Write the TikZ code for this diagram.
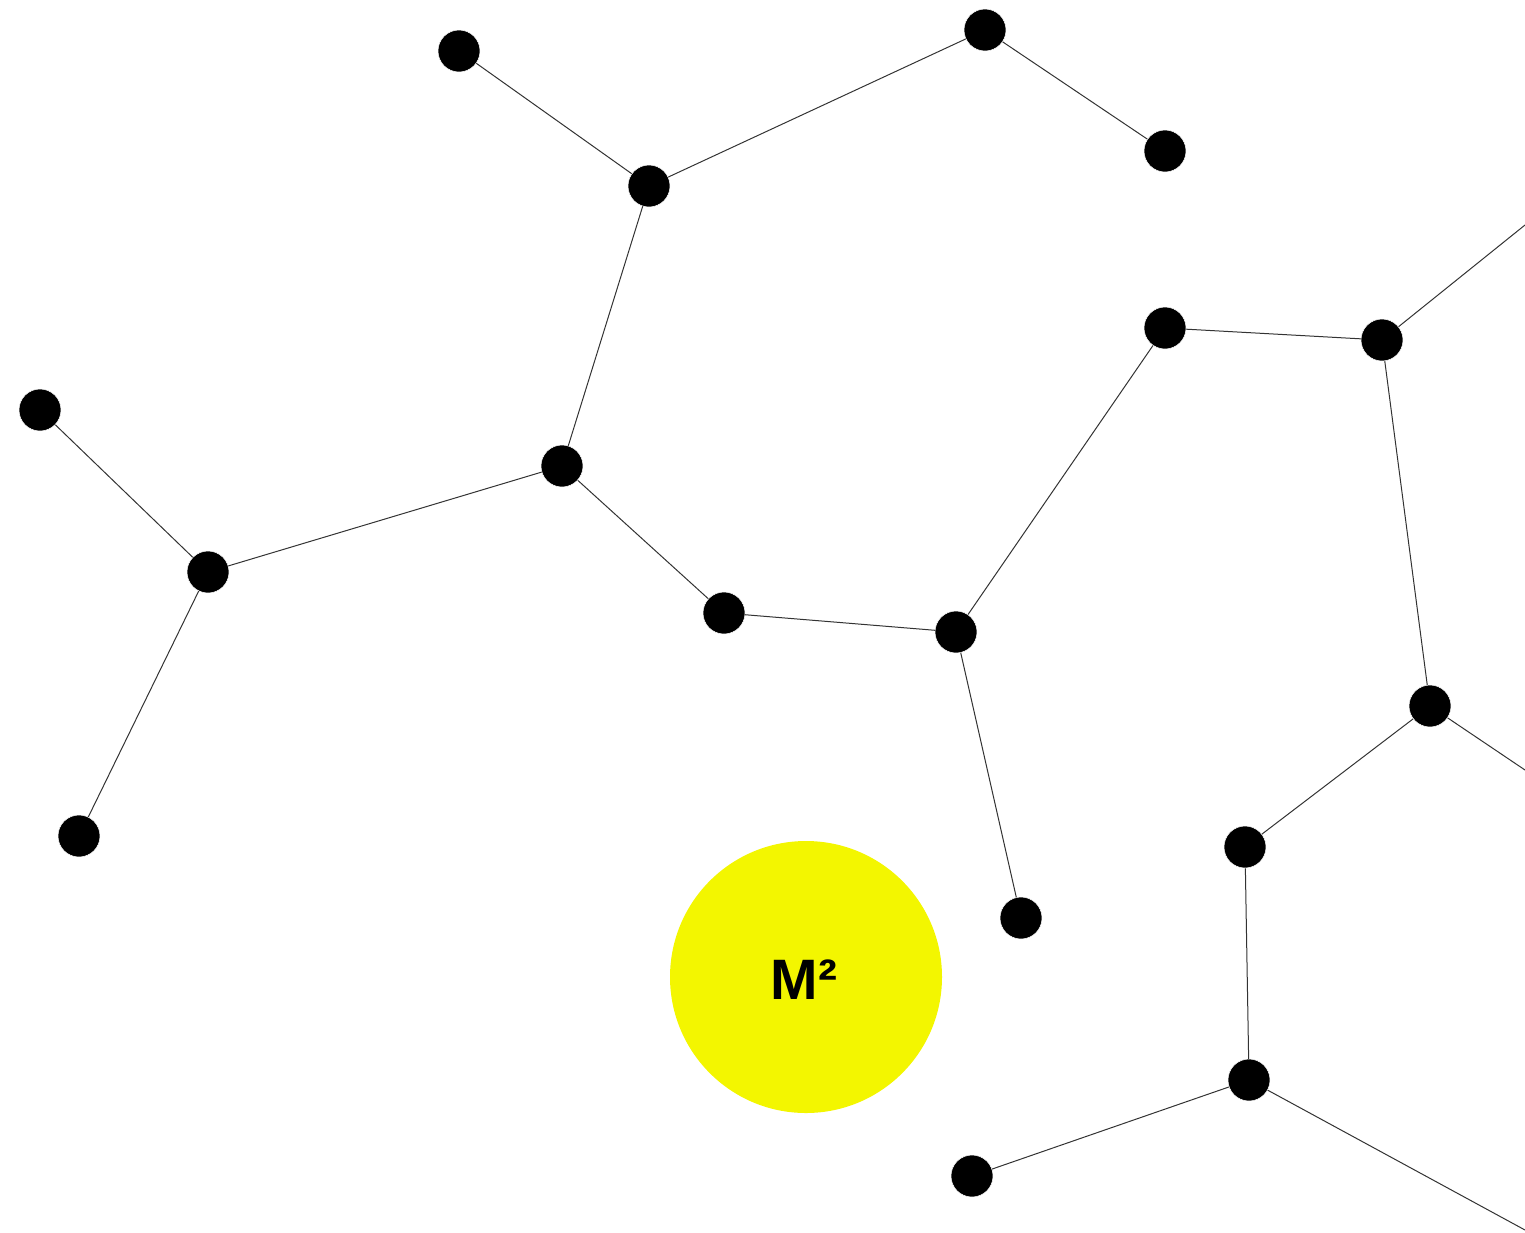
\documentclass[tikz,border=0pt]{standalone}
\usepackage{fontspec}
\setmainfont{Liberation Sans}
\begin{document}
\begin{tikzpicture}[x=1pt,y=-1pt,
  dot/.style={circle,fill=black,draw=white,line width=0.5pt,minimum size=42pt,inner sep=0pt},
  edge/.style={draw=black!80,line width=1pt},
  hub/.style={circle,fill={rgb,255:red,243;green,246;blue,0},minimum size=272pt,inner sep=0pt,font=\fontsize{57}{57}\selectfont\bfseries}]
\useasboundingbox (0,0) rectangle (1525,1232);
\node[hub] (hub) at (806,977) {};
\node[font=\fontsize{57}{57}\selectfont\bfseries,inner sep=0pt] (lbl) at (804,980) {M²};
\coordinate (ei) at (1525,225);
\coordinate (el) at (1525,770);
\coordinate (ep) at (1525,1230);
\node[dot] (a) at (459,51) {};
\node[dot] (b) at (985,30) {};
\node[dot] (c) at (1165,151) {};
\node[dot] (d) at (649,186) {};
\node[dot] (e) at (40,410) {};
\node[dot] (f) at (562,466) {};
\node[dot] (g) at (208,572) {};
\node[dot] (h) at (1165,328) {};
\node[dot] (i) at (1382,340) {};
\node[dot] (j) at (724,613) {};
\node[dot] (k) at (956,632) {};
\node[dot] (l) at (1430,706) {};
\node[dot] (m) at (79,836) {};
\node[dot] (n) at (1245,847) {};
\node[dot] (o) at (1021,918) {};
\node[dot] (p) at (1249,1080) {};
\node[dot] (q) at (972,1176) {};
\draw[edge] (a) -- (d);
\draw[edge] (d) -- (b);
\draw[edge] (b) -- (c);
\draw[edge] (d) -- (f);
\draw[edge] (e) -- (g);
\draw[edge] (g) -- (f);
\draw[edge] (g) -- (m);
\draw[edge] (f) -- (j);
\draw[edge] (j) -- (k);
\draw[edge] (k) -- (h);
\draw[edge] (h) -- (i);
\draw[edge] (i) -- (ei);
\draw[edge] (i) -- (l);
\draw[edge] (l) -- (el);
\draw[edge] (l) -- (n);
\draw[edge] (k) -- (o);
\draw[edge] (n) -- (p);
\draw[edge] (p) -- (q);
\draw[edge] (p) -- (ep);
\end{tikzpicture}
\end{document}
